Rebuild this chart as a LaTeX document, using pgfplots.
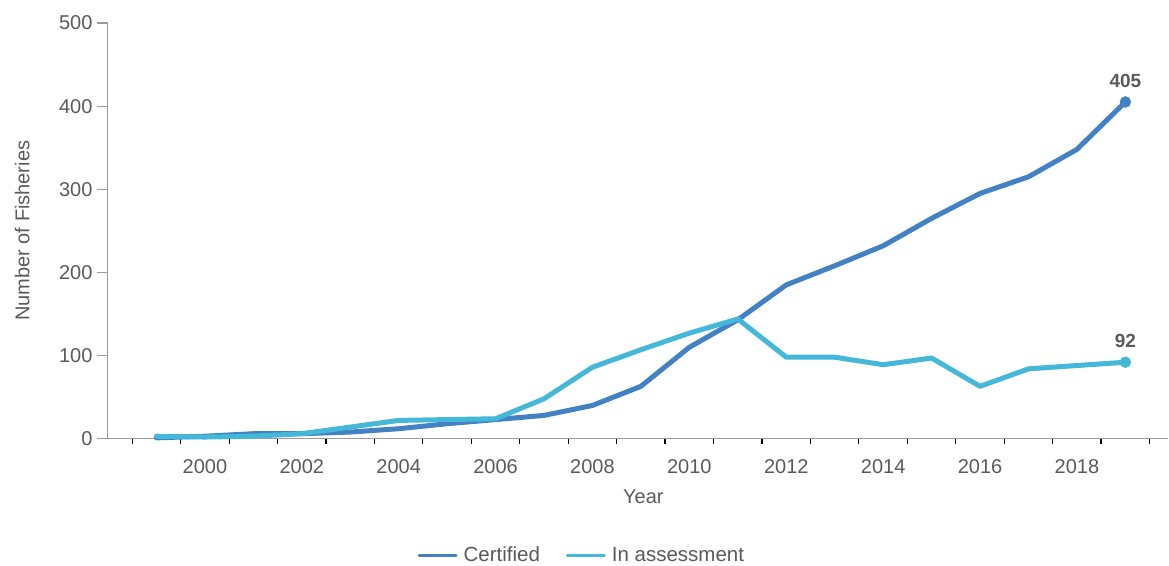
\documentclass[border=0pt]{standalone}
\usepackage{fontspec}
\setmainfont{Liberation Sans}
\usepackage{pgfplots}
\pgfplotsset{compat=1.18}
\definecolor{certcol}{HTML}{4281C2}
\definecolor{assesscol}{HTML}{45B7D8}
\definecolor{txtgrey}{HTML}{5A5A5A}
\definecolor{axgrey}{HTML}{9A9A9A}
\begin{document}
\begin{tikzpicture}
\useasboundingbox (-108pt,-126.3pt) rectangle (1061pt,438.7pt);
\begin{axis}[
  scale only axis,
  width=1060pt, height=415.7pt,
  xmin=1998, xmax=2019.88,
  ymin=0, ymax=500,
  axis lines=left,
  axis line style={draw=axgrey, line width=1pt, -},
  clip=false,
  font=\fontsize{20}{24}\selectfont,
  /pgf/number format/assume math mode=true,
  /pgf/number format/1000 sep={},
  xtick={2000,2002,...,2018},
  minor xtick={1998.5,1999.5,...,2019.5},
  ytick={0,100,...,500},
  major x tick style={draw=none},
  minor x tick style={draw=black, line width=1.2pt},
  minor tick length=5pt,
  major y tick style={draw=axgrey, line width=1.2pt},
  major tick length=11pt,
  tick align=outside,
  tick label style={text=txtgrey},
  xticklabel style={yshift=-6pt},
  yticklabel style={xshift=-1pt},
  xlabel={Year}, ylabel={Number of Fisheries},
  label style={text=txtgrey},
  xlabel style={at={(axis description cs:0.505,-0.140)}, anchor=center},
  ylabel style={at={(axis description cs:-0.081,0.5)}, anchor=center},
  legend columns=2,
  legend style={draw=none, at={(0.447,-0.28)}, anchor=center,
    text=txtgrey, font=\fontsize{20.5}{24}\selectfont,
    /tikz/every even column/.append style={column sep=24pt},
    /tikz/every odd column/.append style={column sep=4pt}},
  legend image code/.code={\draw[#1, line width=3pt] (0pt,0pt) -- (37pt,0pt);},
]
\addplot[color=certcol, line width=5pt, line join=round, line cap=round] coordinates {
 (1999,1) (2000,3) (2001,6) (2002,6) (2003,8) (2004,12) (2005,18) (2006,23)
 (2007,28) (2008,40) (2009,63) (2010,110) (2011,143) (2012,185) (2013,208)
 (2014,232) (2015,265) (2016,295) (2017,315) (2018,348) (2019,405)};
\addlegendentry{Certified}
\addplot[color=assesscol, line width=5pt, line join=round, line cap=round] coordinates {
 (1999,3) (2000,2) (2001,3) (2002,6) (2003,14) (2004,22) (2005,23) (2006,24)
 (2007,48) (2008,86) (2009,107) (2010,127) (2011,144) (2012,98) (2013,98)
 (2014,89) (2015,97) (2016,63) (2017,84) (2018,88) (2019,92)};
\addlegendentry{In assessment}
\addplot[only marks, mark=*, mark size=5.5pt, color=certcol, forget plot,
  nodes near coords, point meta=explicit symbolic,
  every node near coord/.style={font=\fontsize{19}{22}\selectfont\bfseries, text=txtgrey, anchor=south, yshift=11pt}]
  coordinates {(2019,405) [405]};
\addplot[only marks, mark=*, mark size=5.5pt, color=assesscol, forget plot,
  nodes near coords, point meta=explicit symbolic,
  every node near coord/.style={font=\fontsize{19}{22}\selectfont\bfseries, text=txtgrey, anchor=south, yshift=11pt}]
  coordinates {(2019,92) [92]};
\end{axis}
\end{tikzpicture}
\end{document}
